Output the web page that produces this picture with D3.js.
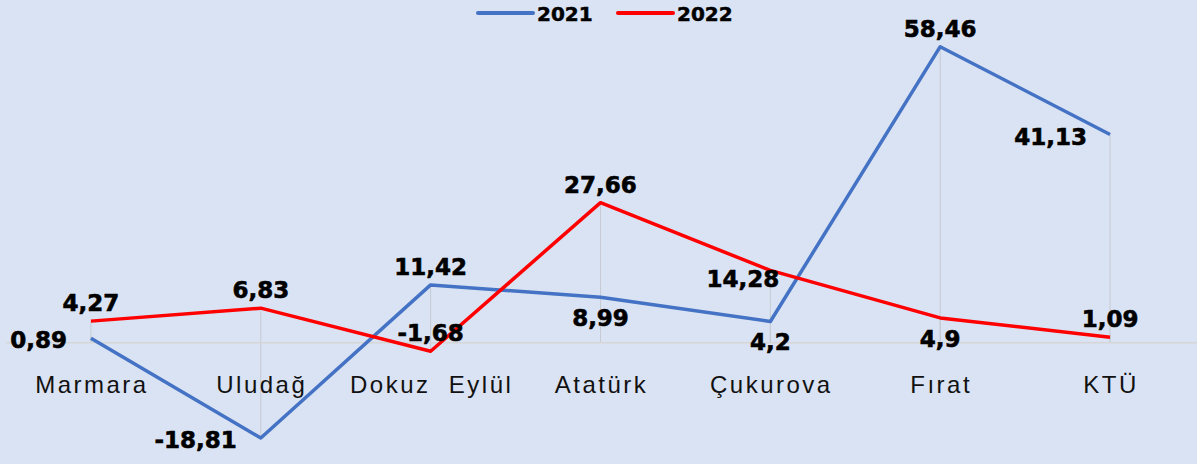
<!DOCTYPE html>
<html>
<head>
<meta charset="utf-8">
<script src="https://cdn.jsdelivr.net/npm/d3@7"></script>
<style>
  body { margin: 0; background: #dae3f3; }
  svg { display: block; font-family: "DejaVu Sans", sans-serif; }
  .val { font-weight: bold; font-size: 23px; fill: #000; stroke: #000; stroke-width: 0.6px; }
  .cat { font-size: 24px; fill: #111; letter-spacing: 2.5px; }
  .leg { font-weight: bold; font-size: 20px; fill: #000; stroke: #000; stroke-width: 0.5px; }
</style>
</head>
<body>
<svg id="chart"></svg>
<script>
const universities = ["Marmara", "Uludağ", "Dokuz  Eylül", "Atatürk", "Çukurova", "Fırat", "KTÜ"];
const values2021 = [0.89, -18.81, 11.42, 8.99, 4.2, 58.46, 41.13];
const values2022 = [4.27, 6.83, -1.68, 27.66, 14.28, 4.9, 1.09];
const seriesNames = ["2021", "2022"];

// where each data label sits relative to its point
const place2021 = ["left", "left", "above", "below", "below", "above", "leftlow"];
const place2022 = ["above", "above", "above", "above", "leftup", "below", "above"];

const width = 1197, height = 464;
const colors = ["#4472c4", "#ff0000"];

const svg = d3.select("#chart").attr("width", width).attr("height", height);
svg.append("rect").attr("width", width).attr("height", height).attr("fill", "#dae3f3");

const x = d3.scaleBand().domain(universities).range([6, 1195]);
const y = d3.scaleLinear().domain([-18.81, 58.46]).range([438, 46.7]);
const cx = d => x(d) + x.bandwidth() / 2;

const series = [values2021, values2022].map((vals, s) => ({
  name: seriesNames[s],
  color: colors[s],
  place: s === 0 ? place2021 : place2022,
  points: vals.map((v, i) => ({ cat: universities[i], v: v }))
}));

// drop lines from each point to the axis
series.forEach(sr => {
  svg.append("g").selectAll("line")
    .data(sr.points).enter()
    .append("line")
    .attr("x1", d => cx(d.cat)).attr("x2", d => cx(d.cat))
    .attr("y1", d => y(d.v)).attr("y2", y(0))
    .attr("stroke", "#c6cad2").attr("stroke-width", 1);
});

// category axis line
svg.append("line")
  .attr("x1", 6).attr("x2", width)
  .attr("y1", y(0)).attr("y2", y(0))
  .attr("stroke", "#d6d6d6").attr("stroke-width", 1.5);

// category labels
const xAxis = svg.append("g")
  .attr("transform", `translate(0,${y(0)})`)
  .call(d3.axisBottom(x).tickSize(0));
xAxis.select(".domain").remove();
xAxis.selectAll("text")
  .attr("class", "cat").attr("font-family", null).attr("font-size", null)
  .attr("x", 1).attr("y", 50).attr("dy", 0)
  .attr("xml:space", "preserve");

const line = d3.line().x(d => cx(d.cat)).y(d => y(d.v));

series.forEach(sr => {
  svg.append("path")
    .datum(sr.points)
    .attr("d", line)
    .attr("fill", "none")
    .attr("stroke", sr.color)
    .attr("stroke-width", 3.5)
    .attr("stroke-linejoin", "round");
});

const fmt = v => String(v).replace(".", ",");
const offsets = {
  above: { dx: 0, dy: -10, anchor: "middle" },
  below: { dx: 0, dy: 29, anchor: "middle" },
  left: { dx: -24, dy: 10, anchor: "end" },
  leftlow: { dx: -23, dy: 11, anchor: "end" },
  leftup: { dx: 9, dy: 17, anchor: "end" }
};

series.forEach(sr => {
  svg.append("g").selectAll("text")
    .data(sr.points).enter()
    .append("text")
    .attr("class", "val")
    .attr("x", (d, i) => cx(d.cat) + offsets[sr.place[i]].dx)
    .attr("y", (d, i) => y(d.v) + offsets[sr.place[i]].dy)
    .attr("text-anchor", (d, i) => offsets[sr.place[i]].anchor)
    .text(d => fmt(d.v));
});

// legend
const legend = svg.append("g").attr("transform", "translate(478,13)");
series.forEach((sr, i) => {
  const g = legend.append("g").attr("transform", `translate(${i * 140},0)`);
  g.append("line").attr("x1", 0).attr("x2", 55).attr("y1", 0).attr("y2", 0)
    .attr("stroke", sr.color).attr("stroke-width", 4).attr("stroke-linecap", "round");
  g.append("text").attr("class", "leg").attr("x", 59).attr("y", 8).text(sr.name);
});
</script>
</body>
</html>
